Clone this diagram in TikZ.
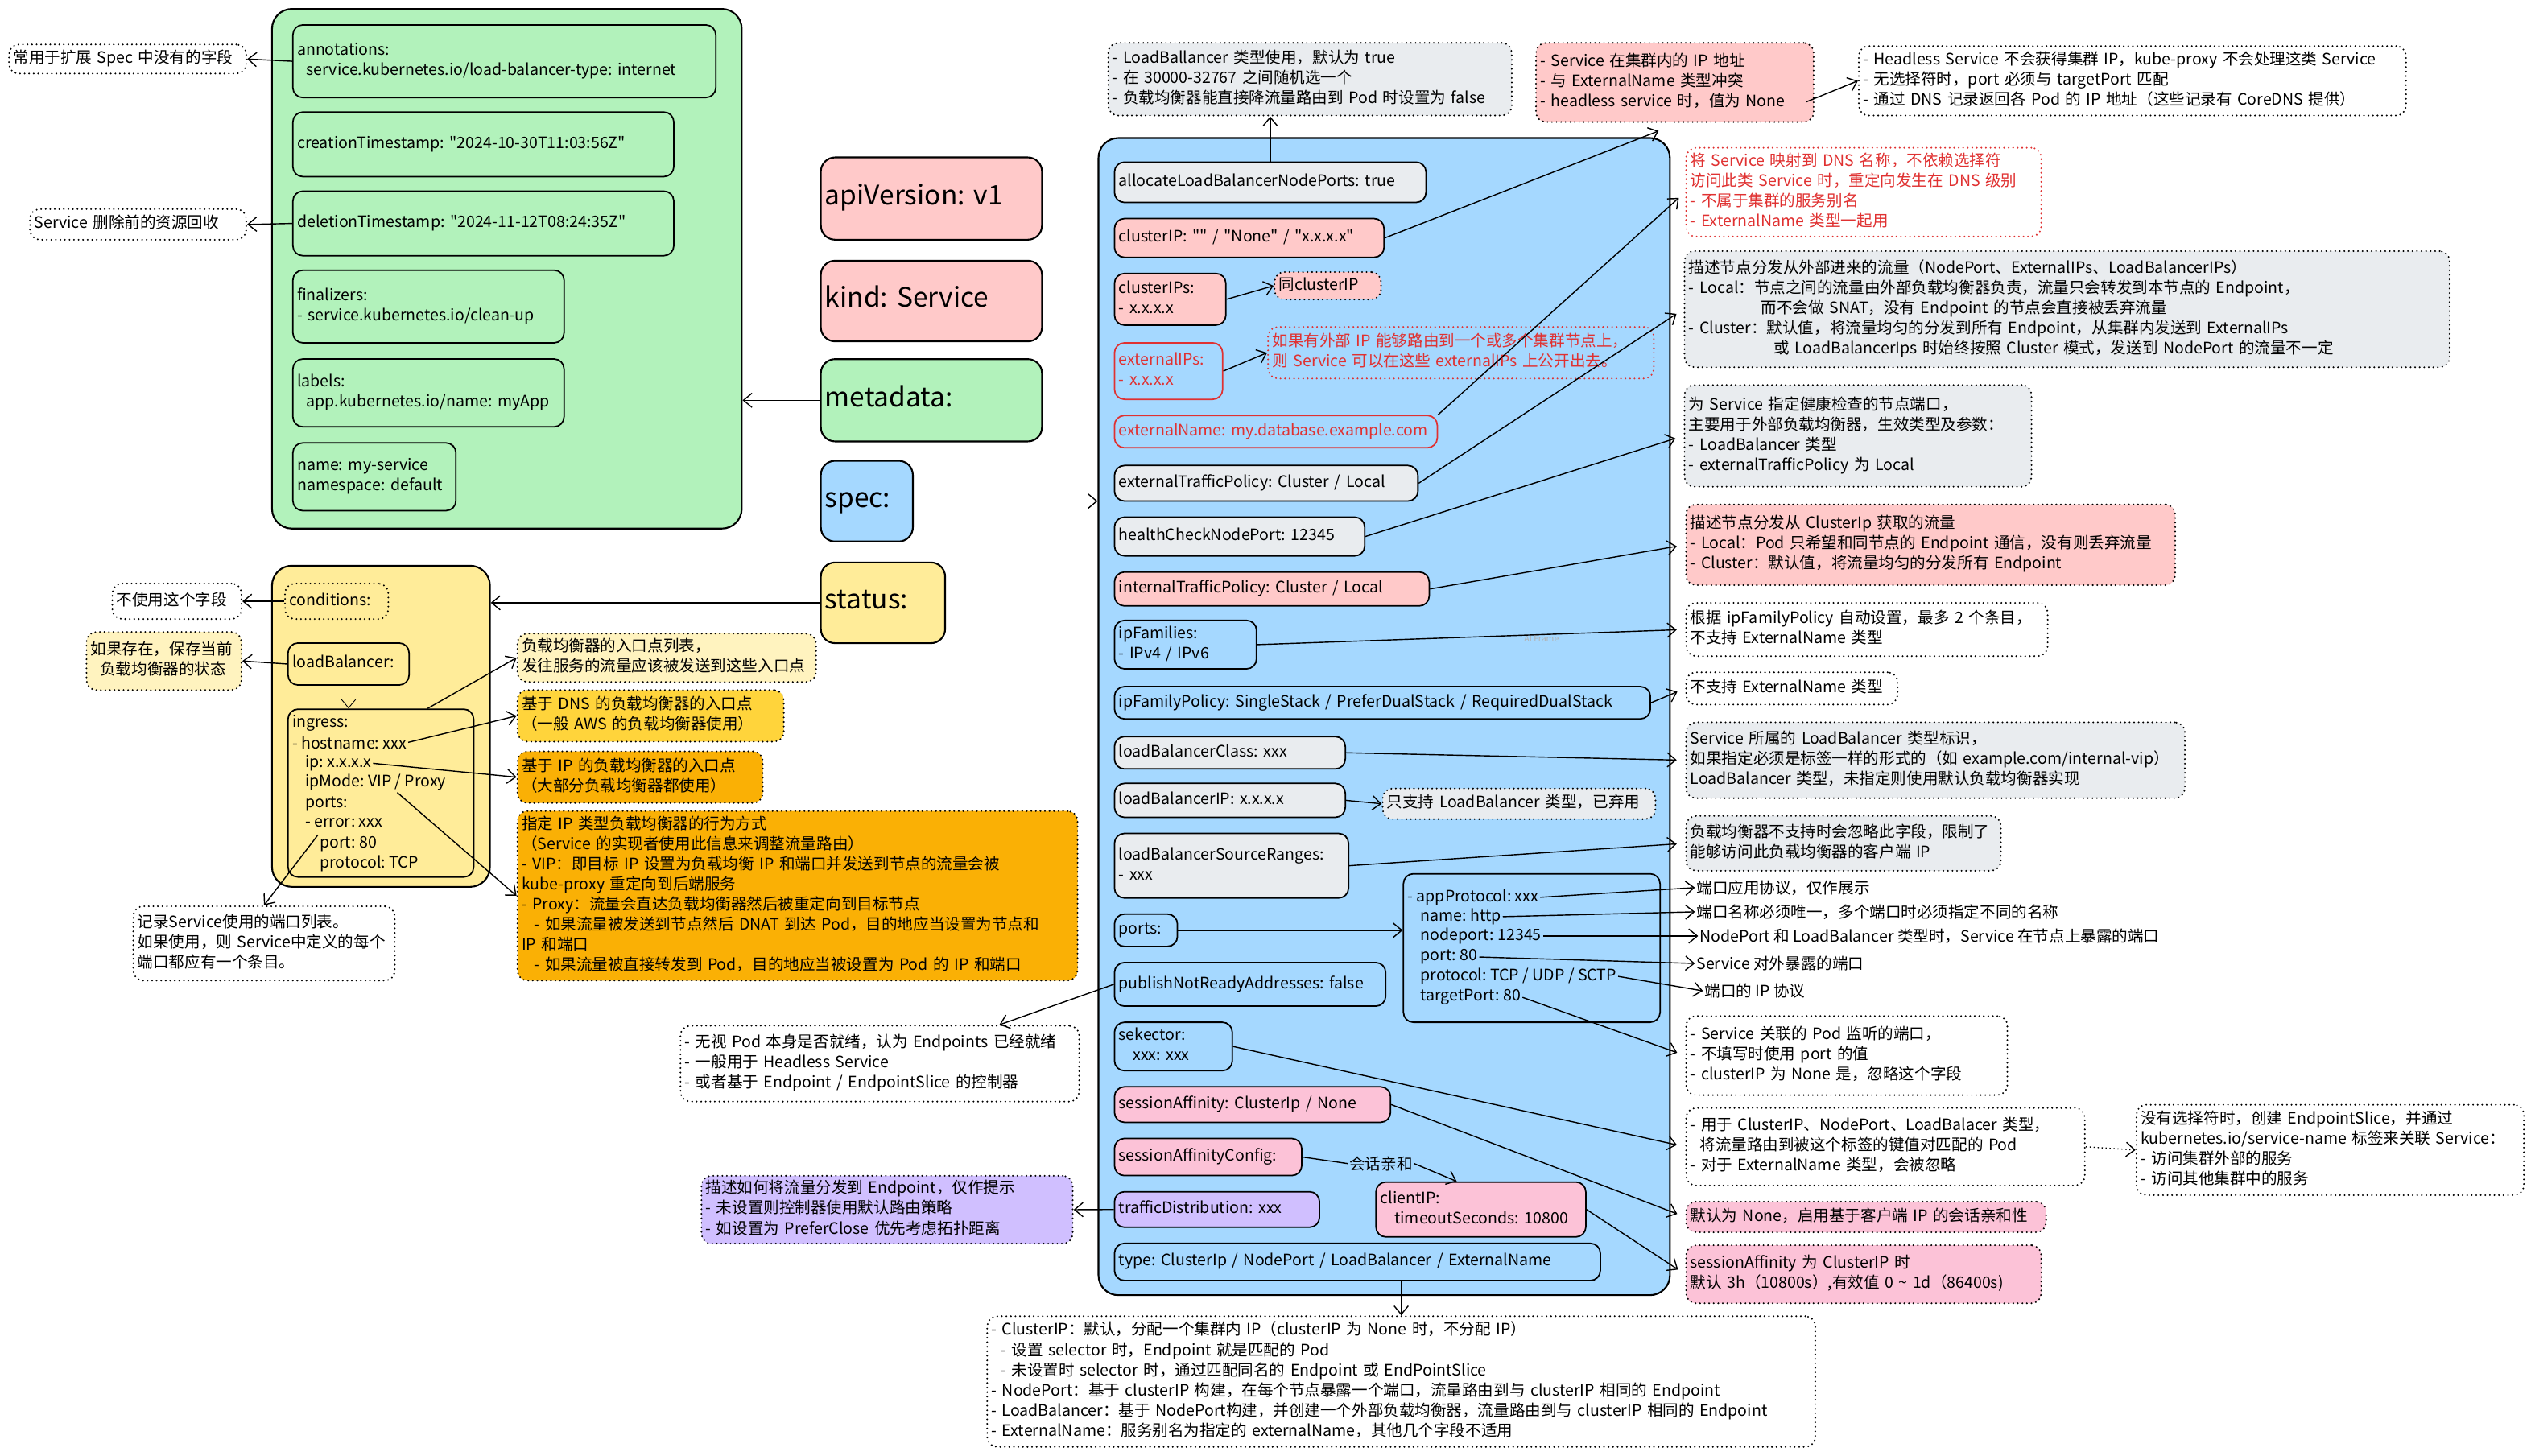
\documentclass[tikz,border=0pt]{standalone}
\usepackage{fontspec}
\setmainfont{Noto Sans CJK SC}[Ligatures=TeXOff]
\usepackage{tikz}
\usetikzlibrary{arrows.meta}
\usetikzlibrary{calc}
\usepackage{xcolor}
\frenchspacing

\definecolor{cgreen}{HTML}{B2F2BB}
\definecolor{cpink}{HTML}{FFC9C9}
\definecolor{crose}{HTML}{FCC2D7}
\definecolor{cblue}{HTML}{A5D8FF}
\definecolor{cyellow}{HTML}{FFEC99}
\definecolor{cpale}{HTML}{FFF3BF}
\definecolor{cgold}{HTML}{FFD43B}
\definecolor{corange}{HTML}{FAB005}
\definecolor{cgray}{HTML}{E9ECEF}
\definecolor{cviolet}{HTML}{D0BFFF}
\definecolor{cred}{HTML}{E03131}

\newcommand{\notefont}{\fontsize{11.1}{14.2}\selectfont}
\newcommand{\headfont}{\fontsize{19}{22}\selectfont}
\newcommand{\ml}[1]{\begin{tabular}{@{}l@{}}#1\end{tabular}}

\begin{document}
\begin{tikzpicture}[x=0.04cm, y=-0.04cm, font=\notefont,
  sz/.style 2 args={minimum width={#1*0.04cm}, minimum height={#2*0.04cm}},
  wh/.style 2 args={sz={#1}{#2}, text width={#1*0.04cm-6pt}},
  fld/.style={draw, line width=1pt, rounded corners=7pt, anchor=north west, align=left, inner xsep=3pt, inner ysep=1.5pt},
  note/.style={fld, line width=1.3pt, line cap=round, dash pattern=on 0pt off 3.2pt},
  grp/.style={draw, line width=1.2pt, rounded corners=14pt, anchor=north west},
  head/.style={fld, line width=1.2pt, rounded corners=10pt, font=\headfont},
  txt/.style={anchor=west, inner sep=1pt},
  arr/.style={-{Straight Barb[length=6pt,width=10pt]}, line width=0.8pt},
  farr/.style={arr, shorten >=6pt}]

\path[use as bounding box, fill=white] (0,0) rectangle (1568,902);

\begin{scope}
\node (metaBox) at (168,5) [grp, fill=cgreen, sz={291}{322}] {};
\node (annot) at (181,15) [fld, wh={262}{45}] {\ml{annotations:\\ \hspace{0.6em}service.kubernetes.io/load-balancer-type: internet}};
\node (created) at (181,69) [fld, wh={236}{40}] {\ml{creationTimestamp: "2024-10-30T11:03:56Z"}};
\node (deleted) at (181,118) [fld, wh={236}{40}] {\ml{deletionTimestamp: "2024-11-12T08:24:35Z"}};
\node (final) at (181,167) [fld, wh={168}{45}] {\ml{finalizers:\\- service.kubernetes.io/clean-up}};
\node (labels) at (181,222) [fld, wh={168}{42}] {\ml{labels:\\ \hspace{0.6em}app.kubernetes.io/name: myApp}};
\node (nameBox) at (181,274) [fld, wh={101}{42}] {\ml{name: my-service\\namespace: default}};
\node (noteSpec) at (5,27) [note, wh={147}{18}] {\ml{常用于扩展 Spec 中没有的字段}};
\node (noteDel) at (18,129) [note, wh={134}{19}] {\ml{Service 删除前的资源回收}};
\end{scope}

\node (apiV) at (508,97) [head, fill=cpink, wh={137}{51}] {\ml{apiVersion: v1}};
\node (kindN) at (508,161) [head, fill=cpink, wh={137}{50}] {\ml{kind: Service}};
\node (metaN) at (508,222) [head, fill=cgreen, wh={137}{51}] {\ml{metadata:}};
\node (specN) at (508,285) [head, fill=cblue, wh={57}{50}] {\ml{spec:}};
\node (statusN) at (508,348) [head, fill=cyellow, wh={77}{50}] {\ml{status:}};

\begin{scope}
\node (statusBox) at (168,350) [grp, fill=cyellow, sz={135}{199}] {};
\node (cond) at (176,361) [note, wh={64}{22}] {\ml{conditions:}};
\node (lbN) at (178,398) [fld, wh={75}{26}] {\ml{loadBalancer:}};
\node (ingBox) at (178,439) [fld, wh={115}{104}] {};
\node (ing0) at (180,448) [txt] {ingress:};
\node (ing1) at (180,460) [txt] {- hostname: xxx};
\node (ing2) at (188,473) [txt] {ip: x.x.x.x};
\node (ing3) at (188,485) [txt] {ipMode: VIP / Proxy};
\node (ing4) at (188,498) [txt] {ports:};
\node (ing5) at (188,510) [txt] {- error: xxx};
\node (ing6) at (197,523) [txt] {port: 80};
\node (ing7) at (197,535) [txt] {protocol: TCP};
\node (noteCond) at (69,361) [note, wh={80}{22}] {\ml{不使用这个字段}};
\node (noteLB) at (53,391) [note, fill=cpale, wh={96}{36}] {\ml{如果存在，保存当前\\ \hspace{0.6em}负载均衡器的状态}};
\node (notePorts) at (82,561) [note, wh={162}{46}] {\ml{记录Service使用的端口列表。\\如果使用，则 Service中定义的每个\\端口都应有一个条目。}};
\node (noteIngress) at (320,392) [note, fill=cpale, wh={185}{30}] {\ml{负载均衡器的入口点列表，\\发往服务的流量应该被发送到这些入口点}};
\node (noteDns) at (320,427) [note, fill=cgold, wh={165}{32}] {\ml{基于 DNS 的负载均衡器的入口点\\（一般 AWS 的负载均衡器使用）}};
\node (noteIp) at (320,465) [note, fill=corange, wh={152}{32}] {\ml{基于 IP 的负载均衡器的入口点\\（大部分负载均衡器都使用）}};
\node (noteMode) at (320,502) [note, fill=corange, wh={347}{105}] {\ml{指定 IP 类型负载均衡器的行为方式\\（Service 的实现者使用此信息来调整流量路由）\\- VIP：即目标 IP 设置为负载均衡 IP 和端口并发送到节点的流量会被\\kube-proxy 重定向到后端服务\\- Proxy：流量会直达负载均衡器然后被重定向到目标节点\\ \hspace{0.8em}- 如果流量被发送到节点然后 DNAT 到达 Pod，目的地应当设置为节点和\\IP 和端口\\ \hspace{0.8em}- 如果流量被直接转发到 Pod，目的地应当被设置为 Pod 的 IP 和端口}};
\end{scope}

\begin{scope}
\node (specBox) at (680,85) [grp, fill=cblue, sz={354}{717}] {};
\node (alloc) at (690,100) [fld, fill=cgray, wh={193}{25}] {\ml{allocateLoadBalancerNodePorts: true}};
\node (cip) at (690,135) [fld, fill=cpink, wh={167}{24}] {\ml{clusterIP: "" / "None" / "x.x.x.x"}};
\node (cips) at (690,169) [fld, fill=cpink, wh={69}{32}] {\ml{clusterIPs:\\- x.x.x.x}};
\node (sameNote) at (789,168) [note, fill=cpink, wh={66}{17}] {\ml{同clusterIP}};
\node (eips) at (690,212) [fld, draw=cred, text=cred, wh={67}{35}] {\ml{externalIPs:\\- x.x.x.x}};
\node (eipNote) at (785,202) [note, draw=cred, text=cred, wh={239}{32}] {\ml{如果有外部 IP 能够路由到一个或多个集群节点上，\\则 Service 可以在这些 externalIPs 上公开出去。}};
\node (ename) at (690,257) [fld, draw=cred, text=cred, wh={200}{20}] {\ml{externalName: my.database.example.com}};
\node (etp) at (690,288) [fld, fill=cgray, wh={188}{22}] {\ml{externalTrafficPolicy: Cluster / Local}};
\node (hc) at (690,320) [fld, fill=cgray, wh={155}{24}] {\ml{healthCheckNodePort: 12345}};
\node (itp) at (690,354) [fld, fill=cpink, wh={195}{21}] {\ml{internalTrafficPolicy: Cluster / Local}};
\node (ipf) at (690,384) [fld, fill=cblue, wh={88}{30}] {\ml{ipFamilies:\\- IPv4 / IPv6}};
\node (ipfp) at (690,425) [fld, fill=cblue, wh={332}{20}] {\ml{ipFamilyPolicy: SingleStack / PreferDualStack / RequiredDualStack}};
\node (lbc) at (690,456) [fld, fill=cgray, wh={143}{20}] {\ml{loadBalancerClass: xxx}};
\node (lbip) at (690,485) [fld, fill=cgray, wh={143}{21}] {\ml{loadBalancerIP: x.x.x.x}};
\node (lbipNote) at (856,488) [note, fill=cgray, wh={169}{19}] {\ml{只支持 LoadBalancer 类型，已弃用}};
\node (lbsr) at (690,516) [fld, fill=cgray, wh={145}{40}] {\ml{loadBalancerSourceRanges:\\- xxx}};
\node (portsN) at (690,566) [fld, fill=cblue, wh={39}{20}] {\ml{ports:}};
\node (portBox) at (869,541) [fld, fill=cblue, wh={159}{92}] {};
\node (p1) at (871,556) [txt] {- appProtocol: xxx};
\node (p2) at (879,568) [txt] {name: http};
\node (p3) at (879,580) [txt] {nodeport: 12345};
\node (p4) at (879,593) [txt] {port: 80};
\node (p5) at (879,605) [txt] {protocol: TCP / UDP / SCTP};
\node (p6) at (879,618) [txt] {targetPort: 80};
\node (pnra) at (690,596) [fld, fill=cblue, wh={168}{27}] {\ml{publishNotReadyAddresses: false}};
\node (sel) at (690,633) [fld, fill=cblue, wh={73}{30}] {\ml{sekector:\\ \hspace{0.9em}xxx: xxx}};
\node (sa) at (690,673) [fld, fill=crose, wh={171}{22}] {\ml{sessionAffinity: ClusterIp / None}};
\node (sac) at (690,705) [fld, fill=crose, wh={116}{23}] {\ml{sessionAffinityConfig:}};
\node (affin) at (835,721) [txt] {会话亲和};
\node (cli) at (852,732) [fld, fill=crose, wh={130}{34}] {\ml{clientIP:\\ \hspace{0.9em}timeoutSeconds: 10800}};
\node (td) at (690,738) [fld, fill=cviolet, wh={127}{22}] {\ml{trafficDistribution: xxx}};
\node (typeN) at (690,770) [fld, fill=cblue, wh={301}{23}] {\ml{type: ClusterIp / NodePort / LoadBalancer / ExternalName}};
\node (aiMark) at (955,396) [text=black!30, font=\fontsize{6}{7}\selectfont] {AI Frame};
\end{scope}

\node (allocNote) at (686,26) [note, fill=cgray, wh={250}{45}] {\ml{- LoadBallancer 类型使用，默认为 true\\- 在 30000-32767 之间随机选一个\\- 负载均衡器能直接降流量路由到 Pod 时设置为 false}};
\node (cipNote) at (951,26) [note, fill=cpink, wh={172}{49}] {\ml{- Service 在集群内的 IP 地址\\- 与 ExternalName 类型冲突\\- headless service 时，值为 None}};
\node (headNote) at (1151,28) [note, wh={339}{43}] {\ml{- Headless Service 不会获得集群 IP，kube-proxy 不会处理这类 Service\\- 无选择符时，port 必须与 targetPort 匹配\\- 通过 DNS 记录返回各 Pod 的 IP 地址（这些记录有 CoreDNS 提供）}};
\node (enNote) at (1044,91) [note, draw=cred, text=cred, wh={220}{55}] {\ml{将 Service 映射到 DNS 名称，不依赖选择符\\访问此类 Service 时，重定向发生在 DNS 级别\\- 不属于集群的服务别名\\- ExternalName 类型一起用}};
\node (etpNote) at (1043,155) [note, fill=cgray, wh={474}{72}] {\ml{描述节点分发从外部进来的流量（NodePort、ExternalIPs、LoadBalancerIPs）\\- Local：节点之间的流量由外部负载均衡器负责，流量只会转发到本节点的 Endpoint，\\ \hspace{4.6em}而不会做 SNAT，没有 Endpoint 的节点会直接被丢弃流量\\- Cluster：默认值，将流量均匀的分发到所有 Endpoint，从集群内发送到 ExternalIPs\\ \hspace{5.4em}或 LoadBalancerIps 时始终按照 Cluster 模式，发送到 NodePort 的流量不一定}};
\node (hcNote) at (1043,238) [note, fill=cgray, wh={215}{63}] {\ml{为 Service 指定健康检查的节点端口，\\主要用于外部负载均衡器，生效类型及参数：\\- LoadBalancer 类型\\- externalTrafficPolicy 为 Local}};
\node (itpNote) at (1044,312) [note, fill=cpink, wh={303}{50}] {\ml{描述节点分发从 ClusterIp 获取的流量\\- Local：Pod 只希望和同节点的 Endpoint 通信，没有则丢弃流量\\- Cluster：默认值，将流量均匀的分发所有 Endpoint}};
\node (ipfNote) at (1044,373) [note, wh={224}{33}] {\ml{根据 ipFamilyPolicy 自动设置，最多 2 个条目，\\不支持 ExternalName 类型}};
\node (ipfpNote) at (1044,416) [note, wh={131}{20}] {\ml{不支持 ExternalName 类型}};
\node (lbcNote) at (1044,447) [note, fill=cgray, wh={309}{47}] {\ml{Service 所属的 LoadBalancer 类型标识，\\如果指定必须是标签一样的形式的（如 example.com/internal-vip）\\LoadBalancer 类型，未指定则使用默认负载均衡器实现}};
\node (lbsrNote) at (1044,505) [note, fill=cgray, wh={195}{34}] {\ml{负载均衡器不支持时会忽略此字段，限制了\\能够访问此负载均衡器的客户端 IP}};
\node (t1) at (1050,550) [txt] {端口应用协议，仅作展示};
\node (t2) at (1050,565) [txt] {端口名称必须唯一，多个端口时必须指定不同的名称};
\node (t3) at (1052,580) [txt] {NodePort 和 LoadBalancer 类型时，Service 在节点上暴露的端口};
\node (t4) at (1050,597) [txt] {Service 对外暴露的端口};
\node (t5) at (1055,614) [txt] {端口的 IP 协议};
\node (tpNote) at (1044,629) [note, wh={199}{49}] {\ml{- Service 关联的 Pod 监听的端口，\\- 不填写时使用 port 的值\\- clusterIP 为 None 是，忽略这个字段}};
\node (selNote) at (1044,686) [note, wh={247}{48}] {\ml{- 用于 ClusterIP、NodePort、LoadBalacer 类型，\\ \hspace{0.6em}将流量路由到被这个标签的键值对匹配的 Pod\\- 对于 ExternalName 类型，会被忽略}};
\node (epsNote) at (1323,684) [note, wh={240}{56}] {\ml{没有选择符时，创建 EndpointSlice，并通过\\kubernetes.io/service-name 标签来关联 Service：\\- 访问集群外部的服务\\- 访问其他集群中的服务}};
\node (saNote) at (1044,744) [note, fill=crose, wh={223}{19}] {\ml{默认为 None，启用基于客户端 IP 的会话亲和性}};
\node (cliNote) at (1044,771) [note, fill=crose, wh={220}{36}] {\ml{sessionAffinity 为 ClusterIP 时\\默认 3h（10800s）,有效值 0 \textasciitilde{} 1d（86400s)}};
\node (pnraNote) at (421,635) [note, wh={247}{47}] {\ml{- 无视 Pod 本身是否就绪，认为 Endpoints 已经就绪\\- 一般用于 Headless Service\\- 或者基于 Endpoint / EndpointSlice 的控制器}};
\node (tdNote) at (434,728) [note, fill=cviolet, wh={230}{42}] {\ml{描述如何将流量分发到 Endpoint，仅作提示\\- 未设置则控制器使用默认路由策略\\- 如设置为 PreferClose 优先考虑拓扑距离}};
\node (typeNote) at (611,815) [note, wh={513}{81}] {\ml{- ClusterIP：默认，分配一个集群内 IP（clusterIP 为 None 时，不分配 IP）\\ \hspace{0.6em}- 设置 selector 时，Endpoint 就是匹配的 Pod\\ \hspace{0.6em}- 未设置时 selector 时，通过匹配同名的 Endpoint 或 EndPointSlice\\- NodePort：基于 clusterIP 构建，在每个节点暴露一个端口，流量路由到与 clusterIP 相同的 Endpoint\\- LoadBalancer：基于 NodePort构建，并创建一个外部负载均衡器，流量路由到与 clusterIP 相同的 Endpoint\\- ExternalName：服务别名为指定的 externalName，其他几个字段不适用}};

\draw[arr] (annot.west) -- (noteSpec.east);
\draw[arr] (deleted.west) -- (noteDel.east);
\draw[arr] (metaN.west) -- (metaN.west -| metaBox.east);
\draw[arr] (specN.east) -- (specN.east -| specBox.west);
\draw[arr] (statusN.west) -- (statusN.west -| statusBox.east);
\draw[arr] (cond.west) -- (noteCond.east);
\draw[arr] (lbN.west) -- (noteLB.east);
\draw[arr, line width=0.5pt] (lbN.south) -- (lbN.south |- ingBox.north);
\draw[arr] ($(ingBox.north)!0.5!(ingBox.north east)$) -- (noteIngress.west);
\draw[arr] (ing1.east) -- (noteDns.west);
\draw[arr] (ing2.east) -- (noteIp.west);
\draw[arr] ($(ing3.south)!0.3!(ing3.south east)$) -- (noteMode.west);
\draw[arr] (ing6.north west) -- (notePorts.north);
\draw[arr] (alloc.north) -- (alloc.north |- allocNote.south);
\draw[arr] (cip.east) -- ($(cipNote.south)+(-10,5)$);
\draw[arr] ($(cipNote.east)+(-5,12)$) -- (headNote.west);
\draw[arr] (cips.east) -- (sameNote.west);
\draw[arr] (eips.east) -- (eipNote.west);
\draw[farr] (ename.north east) -- (enNote.west);
\draw[farr] (etp.east) -- (etpNote.west);
\draw[farr] (hc.east) -- (hcNote.west);
\draw[farr] (itp.east) -- (itpNote.west);
\draw[farr] (ipf.east) -- (ipfNote.west);
\draw[farr] (ipfp.east) -- (ipfpNote.west);
\draw[farr] (lbc.east) -- (lbcNote.west);
\draw[arr] (lbip.east) -- (lbipNote.west);
\draw[farr] (lbsr.east) -- (lbsrNote.west);
\draw[arr] (portsN.east) -- (portsN.east -| portBox.west);
\draw[arr] (p1.east) -- (t1.west);
\draw[arr] (p2.east) -- (t2.west);
\draw[arr] (p3.east) -- (t3.west);
\draw[arr] (p4.east) -- (t4.west);
\draw[arr] (p5.east) -- (t5.west);
\draw[farr] (p6.east) -- (tpNote.west);
\draw[arr] (pnra.west) -- ($(pnraNote.north east)+(-50,0)$);
\draw[farr] (sel.east) -- (selNote.west);
\draw[arr, dotted] (selNote.east) -- (epsNote.west);
\draw[farr] (sa.east) -- (saNote.west);
\draw[line width=0.8pt] (sac.east) -- (affin.west);
\draw[arr] (affin.east) -- ($(cli.north)+(-15,0)$);
\draw[farr] (cli.east) -- (cliNote.west);
\draw[arr] (td.west) -- (tdNote.east);
\draw[arr] (typeN.south -| typeNote.north) -- (typeNote.north);

\end{tikzpicture}
\end{document}
